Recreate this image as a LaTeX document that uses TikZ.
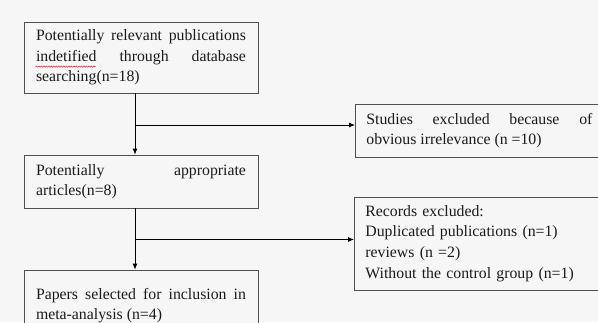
\documentclass[tikz,border=0pt]{standalone}
\usepackage{fontspec}
\setmainfont{Liberation Serif}
\usetikzlibrary{arrows.meta,decorations.pathmorphing}

\definecolor{pagebg}{HTML}{F6F6F6}
\definecolor{boxline}{HTML}{505050}
\definecolor{inktext}{HTML}{1A1A1A}

\tikzset{
  stage/.style={draw=boxline, fill=pagebg, text=inktext, line width=0.8pt,
    inner xsep=12pt, inner ysep=0pt, text width=210pt, align=justify,
    font=\fontsize{15.8}{20.6}\selectfont},
  dropped/.style={stage, inner xsep=11pt, text width=226pt},
  flow/.style={-{Latex[length=6pt,width=5pt]}, line width=0.8pt},
  squiggle/.style={red!75!black, line width=0.4pt,
    decorate, decoration={snake, amplitude=0.7pt, segment length=2.5pt}},
}

\begin{document}
\begin{tikzpicture}[x=1pt,y=-1pt]
      \fill [pagebg] (0,0) rectangle (598,322);
      \clip (0,0) rectangle (598,322);

      % main column
      \node [stage, minimum height=71pt] (search) at (141,57.5)
        {Potentially relevant publications\linebreak
         indetified through database\linebreak searching(n=18)};
      \node [stage, minimum height=53pt] (appr) at (141,181.5)
        {Potentially appropriate\linebreak articles(n=8)};
      \node [stage, minimum height=71pt] (incl) at (141,305.5)
        {Papers selected for inclusion in meta-analysis (n=4)};

      % excluded boxes
      \node [dropped, minimum height=53pt, anchor=west] (irrel) at (355,130.5)
        {Studies excluded because of\linebreak obvious irrelevance (n =10)};
      \node [dropped, minimum height=93pt, anchor=west, align=left] (recs) at (354,243.5)
        {Records excluded:\\ Duplicated publications (n=1)\\ reviews (n =2)\\
         Without the control group (n=1)};

      % spell check mark
      \draw [squiggle] ([shift={(12pt,-45pt)}]search.north west) -- ++(60pt,0);

      \coordinate (split1) at (135,125);
      \coordinate (split2) at (135,239.5);

      \draw [flow] ([xshift=-6pt]search.south) -- ([xshift=-6pt]appr.north);
      \draw [flow] ([xshift=-6pt]appr.south) -- ([xshift=-6pt]incl.north);
      \draw [flow] (split1) -- (split1 -| irrel.west);
      \draw [flow] (split2) -- (split2 -| recs.west);
    \end{tikzpicture}
\end{document}
